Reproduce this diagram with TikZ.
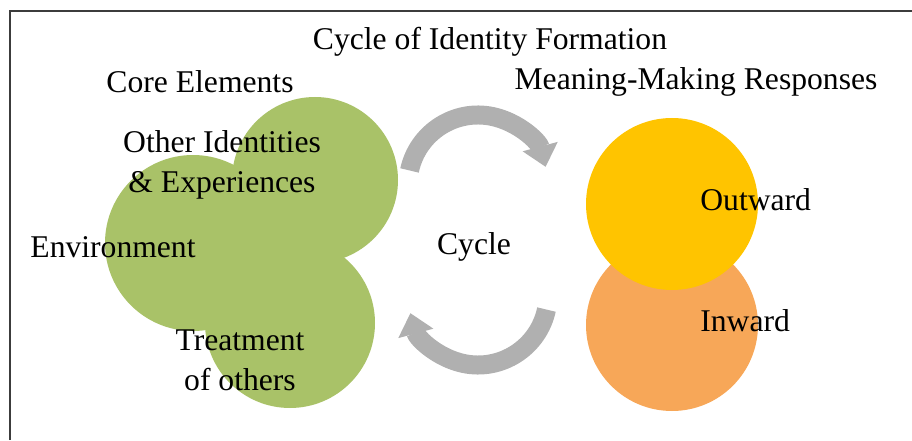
\documentclass[tikz,border=0pt]{standalone}
\usepackage{fontspec}
\setmainfont{Liberation Serif}
\usepackage{tikz}
\usetikzlibrary{arrows.meta,positioning,calc}
\usepackage{xcolor}

\definecolor{vert}{RGB}{169,194,104}
\definecolor{jaune}{RGB}{255,196,0}
\definecolor{orange}{RGB}{247,167,88}
\definecolor{gris}{RGB}{176,176,176}
\definecolor{cadre}{RGB}{60,60,60}

\begin{document}
\begin{tikzpicture}[font=\fontsize{18}{22.7}\selectfont,
		cyclearrow/.style={gris,line width=0.38cm,-{Triangle[length=0.42cm,width=0.7cm]}},
		lbl/.style={inner sep=0pt,align=center}]
	\useasboundingbox (0,0) rectangle (18.24,8.8);
	\draw[cadre,line width=1.1pt](0.2,0) -- (0.2,8.58) -- (18.24,8.58);
	
	% core elements
	\fill[vert](6.30,5.20) circle (1.66);
	\fill[vert](3.86,3.94) circle (1.76);
	\fill[vert](5.80,2.34) circle (1.70);
	
	% responses
	\fill[orange](13.44,2.30) circle (1.72);
	\fill[jaune](13.44,4.72) circle (1.72);
	
	% the two curved arrows
	\coordinate (ctop) at (9.56,5.10);
	\coordinate (cbot) at (9.56,2.90);
	\draw[cyclearrow]([shift={(168:1.4)}]ctop) arc[start angle=168,end angle=15,radius=1.4];
	\draw[cyclearrow]([shift={(-12:1.4)}]cbot) arc[start angle=-12,end angle=-165,radius=1.4];
	
	\node[lbl] (titre) at (9.80,7.96) {Cycle of Identity Formation};
	\node[lbl] (core) at (4.00,7.16) {Core Elements};
	\node[lbl] (resp) at (13.92,7.16) {Meaning-Making Responses};
	\node[lbl] (other) at (4.44,5.50) {Other Identities\\\& Experiences};
	\node[lbl] (env) at (2.26,3.86) {Environment};
	\node[lbl] (treat) at (4.80,1.60) {Treatment\\of others};
	\node[lbl] (cycle) at (9.48,3.86) {Cycle};
	\node[lbl,anchor=west] (out) at (14.00,4.80) {Outward};
	\node[lbl,anchor=west] (in) at (14.00,2.38) {Inward};
\end{tikzpicture}
\end{document}
